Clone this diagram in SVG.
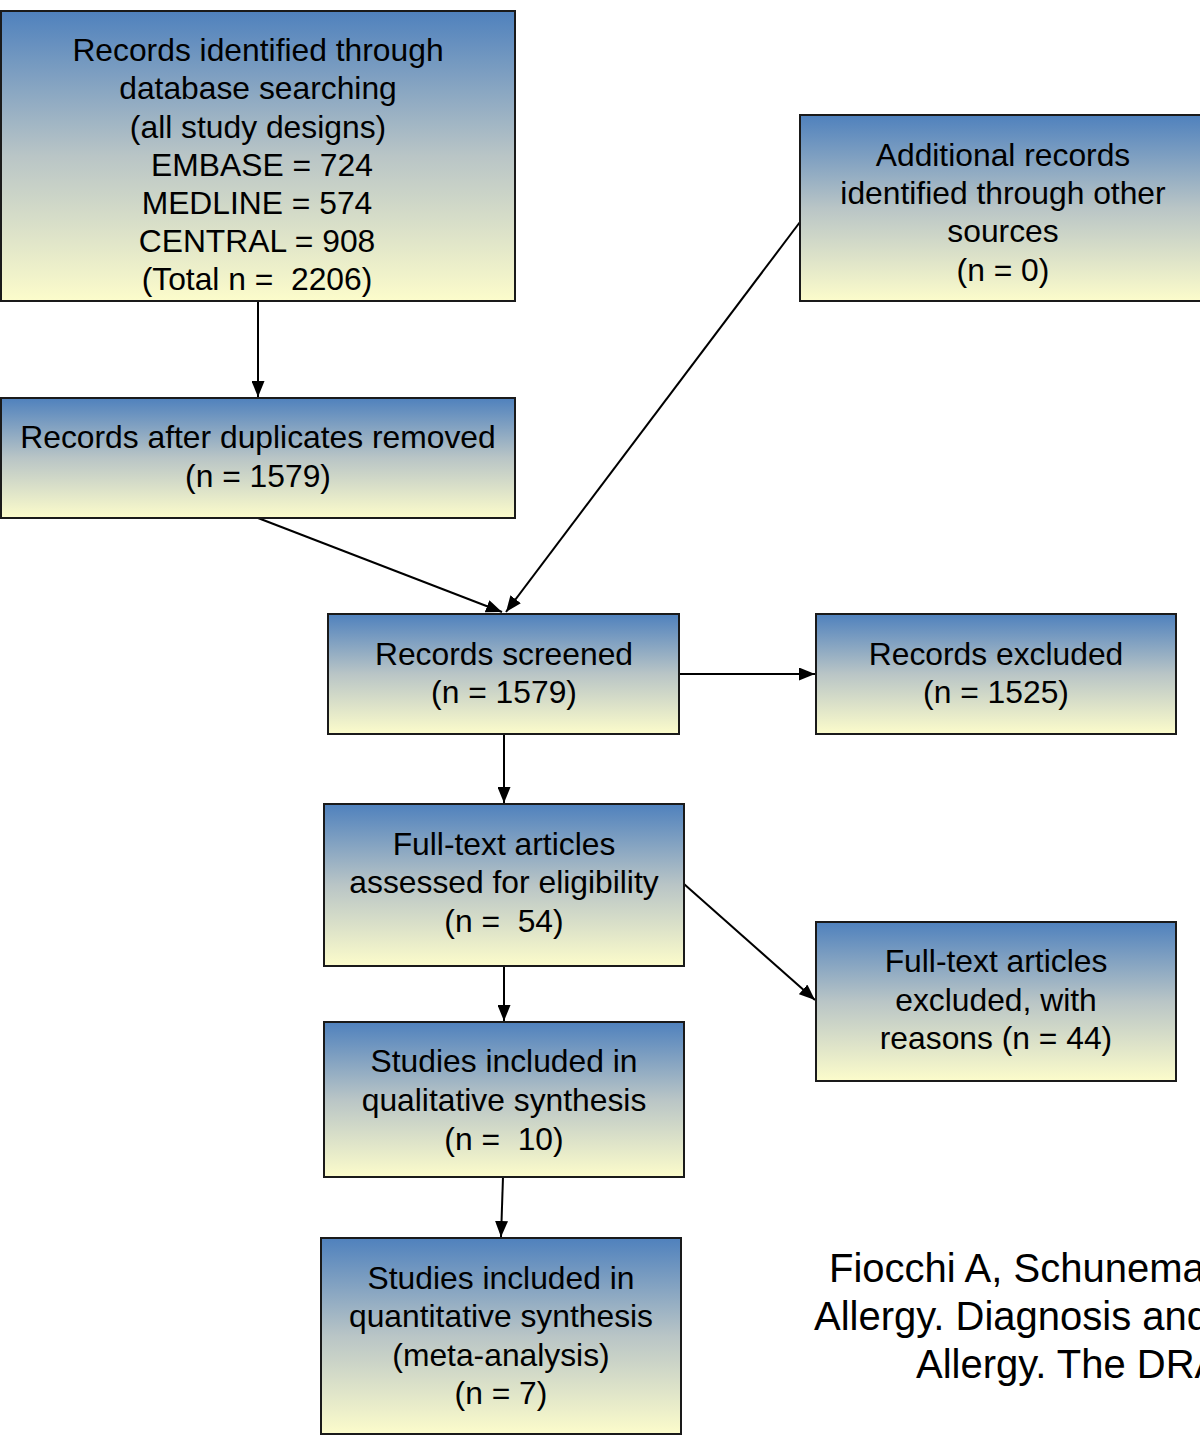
<svg xmlns="http://www.w3.org/2000/svg" width="1200" height="1440" viewBox="0 0 1200 1440">
<defs>
<linearGradient id="g" x1="0" y1="0" x2="0" y2="1">
<stop offset="0" stop-color="#4F81BD"/>
<stop offset="0.5" stop-color="#B9C5C6"/>
<stop offset="1" stop-color="#FCFCCB"/>
</linearGradient>
<marker id="ah" viewBox="0 0 16 13" refX="16" refY="6.5" markerWidth="16" markerHeight="13" markerUnits="userSpaceOnUse" orient="auto">
<path d="M0,0 L16,6.5 L0,13 z" fill="#000"/>
</marker>
</defs>
<style>
.box{fill:url(#g);stroke:#1a1a1a;stroke-width:2}
.t{font-family:"Liberation Sans",Arial,sans-serif;font-size:31.8px;fill:#000;text-anchor:middle;white-space:pre}
.c{font-family:"Liberation Sans",Arial,sans-serif;font-size:40px;fill:#000;white-space:pre}
.ln{stroke:#000;stroke-width:2;fill:none;marker-end:url(#ah)}
</style>
<rect width="1200" height="1440" fill="#fff"/>
<g id="connectors">
<line class="ln" x1="258" y1="301" x2="258" y2="397"/>
<line class="ln" x1="258" y1="518" x2="502" y2="612"/>
<line class="ln" x1="800" y1="222" x2="506" y2="612"/>
<line class="ln" x1="679" y1="674" x2="815" y2="674"/>
<line class="ln" x1="504" y1="734" x2="504" y2="803"/>
<line class="ln" x1="684" y1="884" x2="815" y2="1000"/>
<line class="ln" x1="504" y1="966" x2="504" y2="1021"/>
<line class="ln" x1="503" y1="1177" x2="501" y2="1237"/>
</g>
<g id="n1">
<rect class="box" x="1" y="11" width="514" height="290"/>
<text class="t" x="258" y="61">Records identified through</text>
<text class="t" x="258" y="99">database searching</text>
<text class="t" x="258" y="138">(all study designs)</text>
<text class="t" x="262" y="176">EMBASE = 724</text>
<text class="t" x="257" y="214">MEDLINE = 574</text>
<text class="t" x="257" y="252">CENTRAL = 908</text>
<text class="t" x="257" y="290">(Total n =  2206)</text>
</g>
<g id="n2">
<rect class="box" x="1" y="398" width="514" height="120"/>
<text class="t" x="258" y="448">Records after duplicates removed</text>
<text class="t" x="258" y="487">(n = 1579)</text>
</g>
<g id="n5">
<rect class="box" x="800" y="115" width="410" height="186"/>
<text class="t" x="1003" y="166">Additional records</text>
<text class="t" x="1003" y="204">identified through other</text>
<text class="t" x="1003" y="242">sources</text>
<text class="t" x="1003" y="281">(n = 0)</text>
</g>
<g id="n3">
<rect class="box" x="328" y="614" width="351" height="120"/>
<text class="t" x="504" y="665">Records screened</text>
<text class="t" x="504" y="703">(n = 1579)</text>
</g>
<g id="n4">
<rect class="box" x="816" y="614" width="360" height="120"/>
<text class="t" x="996" y="665">Records excluded</text>
<text class="t" x="996" y="703">(n = 1525)</text>
</g>
<g id="n6">
<rect class="box" x="324" y="804" width="360" height="162"/>
<text class="t" x="504" y="855">Full-text articles</text>
<text class="t" x="504" y="893">assessed for eligibility</text>
<text class="t" x="504" y="932">(n =  54)</text>
</g>
<g id="n7">
<rect class="box" x="816" y="922" width="360" height="159"/>
<text class="t" x="996" y="972">Full-text articles</text>
<text class="t" x="996" y="1011">excluded, with</text>
<text class="t" x="996" y="1049">reasons (n = 44)</text>
</g>
<g id="n8">
<rect class="box" x="324" y="1022" width="360" height="155"/>
<text class="t" x="504" y="1072">Studies included in</text>
<text class="t" x="504" y="1111">qualitative synthesis</text>
<text class="t" x="504" y="1150">(n =  10)</text>
</g>
<g id="n9">
<rect class="box" x="321" y="1238" width="360" height="196"/>
<text class="t" x="501" y="1289">Studies included in</text>
<text class="t" x="501" y="1327">quantitative synthesis</text>
<text class="t" x="501" y="1366">(meta-analysis)</text>
<text class="t" x="501" y="1404">(n = 7)</text>
</g>
<g id="citation">
<text class="c" x="829" y="1282">Fiocchi A, Schunema</text>
<text class="c" x="814" y="1330">Allergy. Diagnosis and</text>
<text class="c" x="916" y="1378">Allergy. The DRA</text>
</g>
</svg>
